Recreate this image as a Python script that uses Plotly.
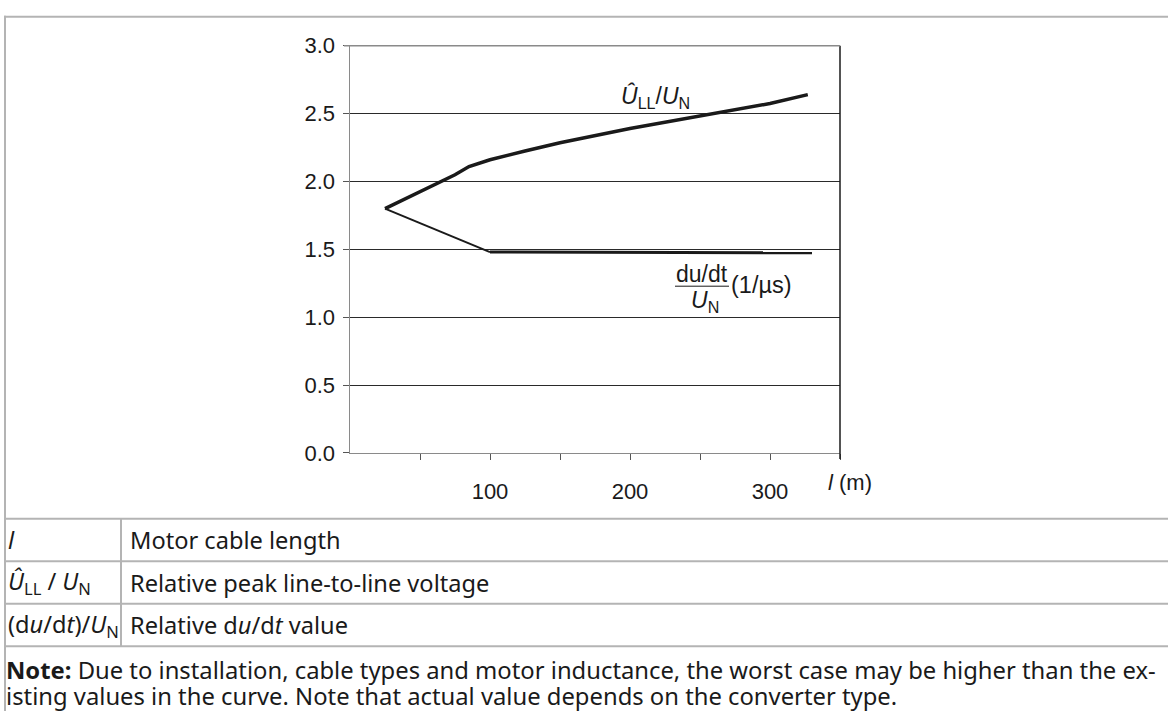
import plotly.graph_objects as go

# ---- data ----
cable_length_peak = [25, 75, 85, 100, 125, 150, 200, 250, 300, 327]
peak_ratio = [1.80, 2.05, 2.11, 2.16, 2.225, 2.285, 2.39, 2.485, 2.575, 2.64]

cable_length_dudt = [25, 100, 330]
dudt_ratio = [1.80, 1.48, 1.475]

y_ticks = [0.0, 0.5, 1.0, 1.5, 2.0, 2.5, 3.0]
x_tick_vals = [50, 100, 150, 200, 250, 300, 350]
x_tick_text = ["", "100", "", "200", "", "300", ""]

table_symbols = [
    "<i>l</i>",
    "<i>Û</i><sub>LL</sub> / <i>U</i><sub>N</sub>",
    "(d<i>u</i>/d<i>t</i>)/<i>U</i><sub>N</sub>",
]
table_meanings = [
    "Motor cable length",
    "Relative peak line-to-line voltage",
    "Relative d<i>u</i>/d<i>t</i> value",
]
note_lines = [
    "<b>Note:</b> Due to installation, cable types and motor inductance, the worst case may be higher than the ex-",
    "isting values in the curve. Note that actual value depends on the converter type.",
]

W, H = 1168, 724


def px(x):
    return x / W


def py(y):
    return 1 - y / H


CHART_FONT = "Liberation Sans, Arial, sans-serif"
TABLE_FONT = "Noto Sans, Open Sans, sans-serif"
INK = "#1a1a1a"
TABLE_SIZE = 23.6
NOTE_SIZE = 23.8

fig = go.Figure()

# upper curve (peak voltage)
fig.add_trace(go.Scatter(
    x=cable_length_peak, y=peak_ratio, mode="lines",
    line=dict(color=INK, width=3.5), hoverinfo="skip", showlegend=False))

# du/dt curve: thin falling part, thick flat part
fig.add_trace(go.Scatter(
    x=cable_length_dudt[:2], y=dudt_ratio[:2], mode="lines",
    line=dict(color=INK, width=2), hoverinfo="skip", showlegend=False))
fig.add_trace(go.Scatter(
    x=cable_length_dudt[1:], y=dudt_ratio[1:], mode="lines",
    line=dict(color=INK, width=3), hoverinfo="skip", showlegend=False))

x0d, x1d = px(350), px(840)
y0d, y1d = py(456.7), py(35)

fig.update_layout(
    width=W, height=H,
    margin=dict(l=0, r=0, t=0, b=0),
    paper_bgcolor="white", plot_bgcolor="white",
    showlegend=False,
    xaxis=dict(
        domain=[x0d, x1d], range=[0, 350],
        tickvals=x_tick_vals, ticktext=x_tick_text,
        showgrid=False, zeroline=False,
        showline=True, linecolor="#8a8a8a", linewidth=1.5,
        ticks="outside", ticklen=6, tickcolor="#555", tickwidth=1,
        ticklabelstandoff=12,
        tickfont=dict(family=CHART_FONT, size=22, color=INK),
        fixedrange=True,
    ),
    yaxis=dict(
        domain=[y0d, y1d], range=[0, 3],
        tickvals=y_ticks, tickformat=".1f",
        showgrid=True, gridcolor="#2a2a2a", gridwidth=1,
        zeroline=False,
        showline=True, linecolor="#8a8a8a", linewidth=1.5,
        ticks="outside", ticklen=6, tickcolor="#555", tickwidth=1,
        ticklabelstandoff=3,
        tickfont=dict(family=CHART_FONT, size=22, color=INK),
        fixedrange=True,
    ),
)

shapes = []
# right border of plot (black), extends like a tick below
shapes.append(dict(type="line", xref="x domain", yref="y domain",
                   x0=1, x1=1, y0=-0.015, y1=1,
                   line=dict(color=INK, width=1.5)))
# top border (gray)
shapes.append(dict(type="line", xref="paper", yref="y domain",
                   x0=px(344), x1=x1d, y0=1, y1=1,
                   line=dict(color="#8a8a8a", width=1.5)))

# table lines
TL = "#b4b4b4"
row_lines = [525, 569, 613, 657]
for ry in row_lines:
    shapes.append(dict(type="line", xref="paper", yref="paper",
                       x0=px(4), x1=1, y0=py(ry), y1=py(ry),
                       line=dict(color=TL, width=2)))
# outer top and left borders
shapes.append(dict(type="line", xref="paper", yref="paper",
                   x0=px(4), x1=1, y0=py(5), y1=py(5),
                   line=dict(color=TL, width=2)))
shapes.append(dict(type="line", xref="paper", yref="paper",
                   x0=px(5), x1=px(5), y0=py(4), y1=0,
                   line=dict(color=TL, width=2)))
# column divider
shapes.append(dict(type="line", xref="paper", yref="paper",
                   x0=px(121), x1=px(121), y0=py(row_lines[0]), y1=py(row_lines[-1]),
                   line=dict(color=TL, width=2)))
# fraction bar for du/dt label
shapes.append(dict(type="line", xref="paper", yref="paper",
                   x0=px(675), x1=px(729), y0=py(284), y1=py(284),
                   line=dict(color=INK, width=1)))
fig.update_layout(shapes=shapes)

ann = []
# curve labels
ann.append(dict(x=px(655), y=py(88), xref="paper", yref="paper",
                text="<i>Û</i><sub>LL</sub>/<i>U</i><sub>N</sub>",
                showarrow=False, xanchor="center", yanchor="middle",
                font=dict(family=CHART_FONT, size=23, color=INK)))
ann.append(dict(x=px(702), y=py(271), xref="paper", yref="paper",
                text="du/dt", showarrow=False, xanchor="center", yanchor="middle",
                font=dict(family=CHART_FONT, size=23, color=INK)))
ann.append(dict(x=px(705), y=py(300), xref="paper", yref="paper",
                text="<i>U</i><sub>N</sub>", showarrow=False,
                xanchor="center", yanchor="middle",
                font=dict(family=CHART_FONT, size=23, color=INK)))
ann.append(dict(x=px(729), y=py(283), xref="paper", yref="paper",
                text="(1/µs)", showarrow=False, xanchor="left", yanchor="middle",
                font=dict(family=CHART_FONT, size=23.5, color=INK)))
# x axis title
ann.append(dict(x=px(826), y=py(487), xref="paper", yref="paper",
                text="<i>l</i> (m)", showarrow=False, xanchor="left", yanchor="middle",
                font=dict(family=CHART_FONT, size=22, color=INK)))

# table text
row_centers = [547, 591, 635]
for sym, meaning, yc in zip(table_symbols, table_meanings, row_centers):
    ann.append(dict(x=px(6), y=py(yc), xref="paper", yref="paper",
                    text=sym, showarrow=False, xanchor="left", yanchor="middle",
                    font=dict(family=TABLE_FONT, size=TABLE_SIZE, color=INK)))
    ann.append(dict(x=px(128), y=py(yc), xref="paper", yref="paper",
                    text=meaning, showarrow=False, xanchor="left", yanchor="middle",
                    font=dict(family=TABLE_FONT, size=TABLE_SIZE, color=INK)))
for i, line in enumerate(note_lines):
    ann.append(dict(x=px(4), y=py(682 + 26 * i), xref="paper", yref="paper",
                    text=line, showarrow=False, xanchor="left", yanchor="middle",
                    font=dict(family=TABLE_FONT, size=NOTE_SIZE, color=INK)))
fig.update_layout(annotations=ann)

fig.write_html(
    "out.html",
    config={"displayModeBar": False, "staticPlot": True},
    post_script="document.body.style.margin='0';document.body.style.overflow='hidden';",
)
